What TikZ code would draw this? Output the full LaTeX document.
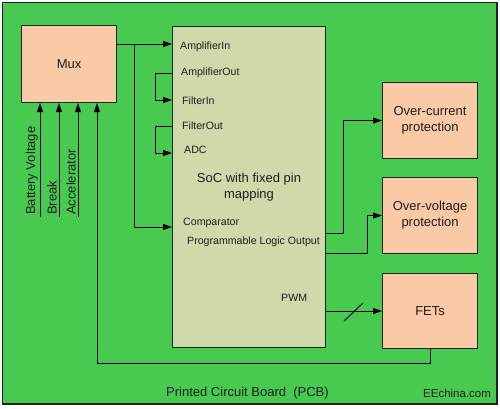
\documentclass[tikz,border=0pt]{standalone}
\usepackage{fontspec}
\setmainfont{Liberation Sans}
\usetikzlibrary{arrows.meta}
\definecolor{pcbgreen}{RGB}{72,201,80}
\definecolor{peach}{RGB}{250,202,166}
\definecolor{socfill}{RGB}{206,218,170}
\definecolor{edge}{RGB}{28,40,28}
\definecolor{txt}{RGB}{30,30,30}
\tikzset{
  blk/.style={draw=edge, line width=1.1pt, fill=peach, inner sep=0pt, anchor=north west, font=\fontsize{13}{16}\selectfont, text=txt, align=center},
  socblk/.style={draw=edge, line width=1.1pt, fill=socfill, inner sep=0pt, anchor=north west},
  pin/.style={anchor=west, inner sep=0pt, font=\fontsize{10.6}{12}\selectfont, text=txt},
  vlab/.style={rotate=90, anchor=south west, inner sep=2pt, font=\fontsize{13}{15}\selectfont, text=txt},
  wire/.style={line width=0.9pt, draw=black},
  arr/.style={wire, -{Triangle[length=9pt,width=6pt]}}
}
\begin{document}
\begin{tikzpicture}[x=1pt,y=-1pt]
\useasboundingbox (0,0) rectangle (500,408);
\fill[white] (0,0) rectangle (500,408);
\draw[draw=edge, line width=1.1pt, fill=pcbgreen] (2.5,2.5) rectangle (497,404);

% blocks
\node[blk, minimum width=95pt, minimum height=77pt] (mux) at (21,25) {Mux};
\node[socblk, minimum width=153pt, minimum height=321pt] (soc) at (172,26) {};
\node[blk, minimum width=95pt, minimum height=76pt] (oc) at (382,82) {Over-current\\protection};
\node[blk, minimum width=95pt, minimum height=76pt] (ov) at (382,177) {Over-voltage\\protection};
\node[blk, minimum width=95pt, minimum height=75pt] (fets) at (382,273) {FETs};

% SoC text
\node[font=\fontsize{13}{16}\selectfont, text=txt, align=center] (soct) at (249,187) {SoC with fixed pin\\mapping};
\node[pin] (lampin) at (180,47) {AmplifierIn};
\node[pin] (lampout) at (181,73) {AmplifierOut};
\node[pin] (lfin) at (182,101) {FilterIn};
\node[pin] (lfout) at (182,126) {FilterOut};
\node[pin] (ladc) at (184,150) {ADC};
\node[pin] (lcomp) at (183,223) {Comparator};
\node[pin] (lplo) at (187,242) {Programmable Logic Output};
\node[pin] (lpwm) at (281,298) {PWM};

% pin coordinates
\coordinate (ampin) at (172,44);
\coordinate (ampout) at (172,73);
\coordinate (fin) at (172,100);
\coordinate (fout) at (172,126);
\coordinate (adc) at (172,153);
\coordinate (comp) at (172,227);
\coordinate (plo1) at (325,233);
\coordinate (plo2) at (325,253);
\coordinate (pwm) at (325,311);
\coordinate (split) at (134,44);
\coordinate (bv) at (40,217);
\coordinate (bk) at (59,217);
\coordinate (ac) at (78,217);
\coordinate (fb) at (97,363);

% Mux to SoC
\draw[arr] (mux.east |- ampin) -- (ampin);
\draw[arr] (split) |- (comp);
\draw[arr] (ampout) -- ++(-17,0) |- (fin);
\draw[arr] (fout) -- ++(-17,0) |- (adc);

% SoC outputs
\draw[arr] (plo1) -- (343,233) |- (oc.west);
\draw[arr] (plo2) -- (367.5,253) |- (ov.west);
\draw[arr] (pwm) -- (fets.west |- pwm);
\draw[wire] (344,321) -- (363,303);

% feedback FETs to Mux
\draw[arr] (fets.south) |- (fb) -- (fb |- mux.south);

% sensor inputs
\draw[arr] (bv) -- (bv |- mux.south);
\draw[arr] (bk) -- (bk |- mux.south);
\draw[arr] (ac) -- (ac |- mux.south);
\node[vlab] (lbv) at (bv) {Battery Voltage};
\node[vlab] (lbk) at (bk) {Break};
\node[vlab] (lac) at (ac) {Accelerator};

% board label
\node[anchor=west, inner sep=0pt, font=\fontsize{13}{15}\selectfont, text=txt] (pcb) at (166,393) {Printed Circuit Board \ (PCB)};
\node[anchor=west, inner sep=0pt, font=\fontsize{11.5}{13}\selectfont, text=txt] (ee) at (423,393) {EEchina.com};
\end{tikzpicture}
\end{document}
